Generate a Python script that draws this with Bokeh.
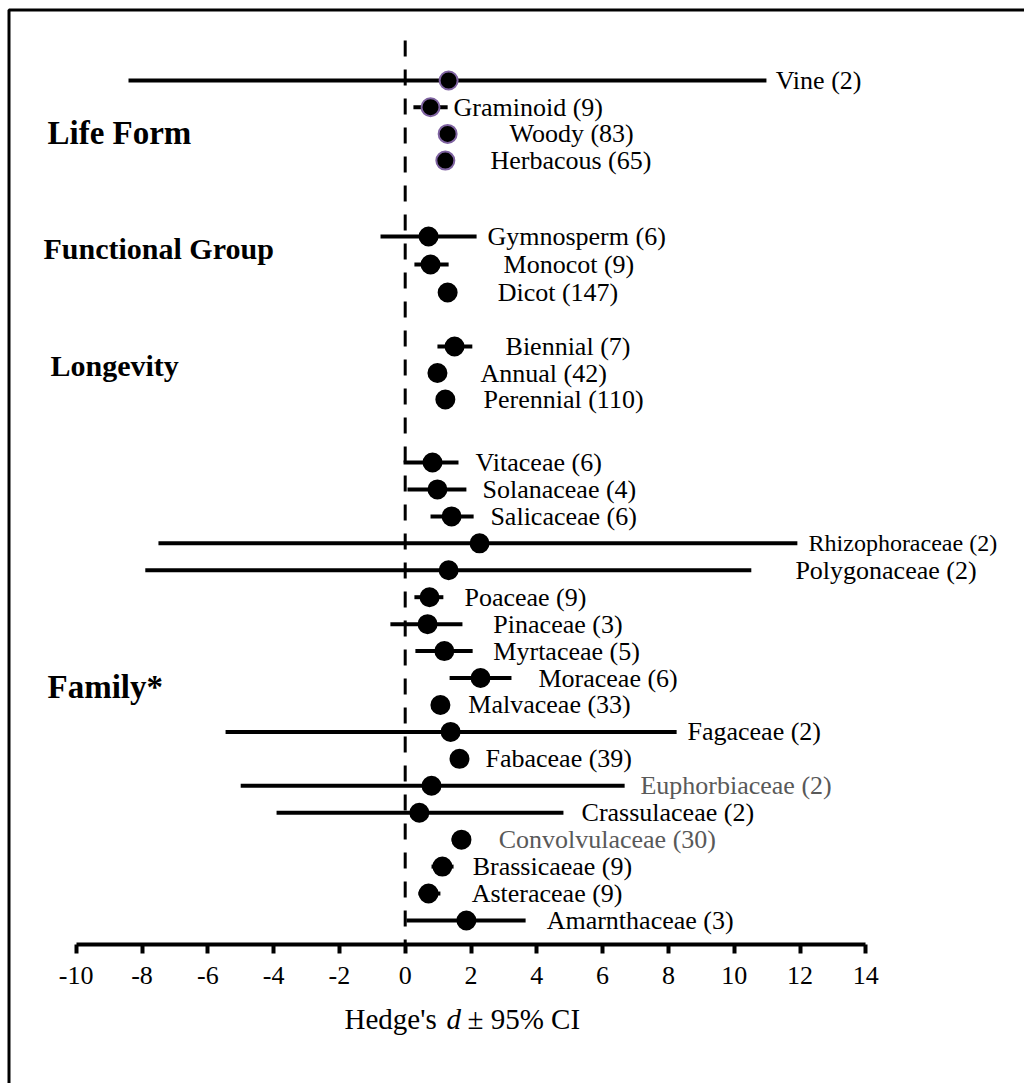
from bokeh.plotting import figure
from bokeh.models import ColumnDataSource, Range1d, LinearAxis, FixedTicker
from bokeh.core.properties import value
from bokeh.embed import file_html
from bokeh.resources import INLINE

# ---------------- data ----------------
groups = ["Life Form", "Functional Group", "Longevity", "Family*"]

life_labels = ["Vine (2)", "Graminoid (9)", "Woody (83)", "Herbacous (65)"]
life_mean = [1.32, 0.77, 1.29, 1.22]
life_lo = [-8.41, 0.25, 1.10, 1.05]
life_hi = [10.98, 1.29, 1.45, 1.40]

func_labels = ["Gymnosperm (6)", "Monocot (9)", "Dicot  (147)"]
func_mean = [0.71, 0.77, 1.29]
func_lo = [-0.75, 0.28, 1.15]
func_hi = [2.17, 1.32, 1.42]

long_labels = ["Biennial  (7)", "Annual (42)", "Perennial (110)"]
long_mean = [1.50, 0.98, 1.22]
long_lo = [0.98, 0.85, 1.08]
long_hi = [2.04, 1.12, 1.36]

fam_labels = ["Vitaceae (6)", "Solanaceae (4)", "Salicaceae (6)", "Rhizophoraceae (2)",
              "Polygonaceae (2)", "Poaceae (9)", "Pinaceae (3)", "Myrtaceae (5)",
              "Moraceae (6)", "Malvaceae (33)", "Fagaceae (2)", "Fabaceae (39)",
              "Euphorbiaceae (2)", "Crassulaceae (2)", "Convolvulaceae (30)",
              "Brassicaeae (9)", "Asteraceae (9)", "Amarnthaceae (3)"]
fam_mean = [0.83, 0.98, 1.41, 2.26, 1.32, 0.74, 0.68, 1.19, 2.29, 1.07, 1.38, 1.65,
            0.80, 0.43, 1.71, 1.13, 0.71, 1.86]
fam_lo = [-0.05, 0.07, 0.77, -7.50, -7.90, 0.28, -0.45, 0.31, 1.35, 0.95, -5.46, 1.50,
          -5.00, -3.91, 1.41, 0.80, 0.40, 0.04]
fam_hi = [1.62, 1.86, 2.08, 11.92, 10.52, 1.16, 1.74, 2.05, 3.23, 1.20, 8.25, 1.80,
          6.67, 4.81, 1.98, 1.47, 1.07, 3.66]

x_ticks = [-10, -8, -6, -4, -2, 0, 2, 4, 6, 8, 10, 12, 14]

# label placement (layout, x in data units)
life_label_x = [11.26, 1.47, 3.17, 2.59]
func_label_x = [2.50, 2.99, 2.81]
long_label_x = [3.05, 2.29, 2.38]
fam_label_x = [2.14, 2.35, 2.59, 12.26, 11.86, 1.80, 2.68, 2.68, 4.05, 1.92, 8.58, 2.44,
               7.15, 5.36, 2.84, 2.05, 2.02, 4.30]
gray_rows = ["Euphorbiaceae (2)", "Convolvulaceae (30)"]
small_rows = ["Rhizophoraceae (2)"]

# ---------------- layout (pixel-from-top coordinates) ----------------
W, H = 1024, 1083
X0_PX, PX_PER_UNIT = 404.7, 32.9
def dx(px):
    return (px - X0_PX) / PX_PER_UNIT

def rows(n, start, step):
    return [start + step * i for i in range(n)]

life_y = rows(len(life_labels), 80, 26.7)
func_y = rows(len(func_labels), 236, 28)
long_y = rows(len(long_labels), 346, 26.5)
fam_y = rows(len(fam_labels), 462, 26.94)

FONT = "Liberation Serif"

p = figure(width=W, height=H, output_backend="svg", toolbar_location=None,
           x_axis_type=None, y_axis_type=None, min_border=0,
           x_range=Range1d(dx(0), dx(W)), y_range=Range1d(H, 0))
p.outline_line_color = None
p.background_fill_color = "white"
p.border_fill_color = "white"

# outer frame border
p.line(x=[dx(8.5), dx(8.5), dx(W + 5)], y=[H + 5, 9.5, 9.5], line_color="black", line_width=3)

# zero reference line
p.segment(x0=[0], y0=[40], x1=[0], y1=[944], line_color="black", line_width=3, line_dash="16 13")

# axis
ax = LinearAxis(fixed_location=944, bounds=(-10, 14), ticker=FixedTicker(ticks=x_ticks))
ax.axis_line_width = 4
ax.axis_line_color = "black"
ax.major_tick_line_width = 4
ax.major_tick_line_color = "black"
ax.major_tick_out = 9
ax.major_tick_in = 0
ax.minor_tick_line_color = None
ax.major_label_text_font = FONT
ax.major_label_text_font_size = "26px"
ax.major_label_text_color = "black"
ax.major_label_standoff = 13
ax.major_label_overrides = {t: str(t) for t in x_ticks}
p.add_layout(ax, "below")

def add_block(labels, mean, lo, hi, ys, lx, outline):
    colors = ["#595959" if l in gray_rows else "black" for l in labels]
    sizes = ["24px" if l in small_rows else "26px" for l in labels]
    src = ColumnDataSource(dict(y=ys, mean=mean, lo=lo, hi=hi, label=labels, lx=lx,
                                color=colors, fs=sizes))
    p.segment(x0="lo", y0="y", x1="hi", y1="y", source=src, line_color="black", line_width=4)
    p.scatter(x="mean", y="y", source=src, size=18, fill_color="black",
              line_color=outline, line_width=2)
    p.text(x="lx", y="y", text="label", source=src, text_font=value(FONT),
           text_font_size="fs", text_baseline="middle", text_align="left",
           text_color="color")

add_block(life_labels, life_mean, life_lo, life_hi, life_y, life_label_x, "#7f63a1")
add_block(func_labels, func_mean, func_lo, func_hi, func_y, func_label_x, "black")
add_block(long_labels, long_mean, long_lo, long_hi, long_y, long_label_x, "black")
add_block(fam_labels, fam_mean, fam_lo, fam_hi, fam_y, fam_label_x, "black")

# group titles
gsrc = ColumnDataSource(dict(x=[dx(47), dx(43), dx(50), dx(47)], y=[132, 248, 365, 686], t=groups,
                             fs=["33px", "30px", "30px", "33px"]))
p.text(x="x", y="y", text="t", source=gsrc, text_font=value(FONT), text_font_size="fs",
       text_font_style="bold", text_baseline="middle", text_align="left", text_color="black")

# axis title: Hedge's d ± 95% CI
p.text(x=[dx(344)], y=[1018], text=["Hedge's"], text_font=value(FONT), text_font_size="29px",
       text_baseline="middle", text_align="left", text_color="black")
p.text(x=[dx(446)], y=[1018], text=["d"], text_font=value(FONT), text_font_size="29px",
       text_font_style="italic", text_baseline="middle", text_align="left", text_color="black")
p.text(x=[dx(467)], y=[1018], text=["± 95% CI"], text_font=value(FONT), text_font_size="29px",
       text_baseline="middle", text_align="left", text_color="black")

open("out.html", "w").write(file_html(p, INLINE))
